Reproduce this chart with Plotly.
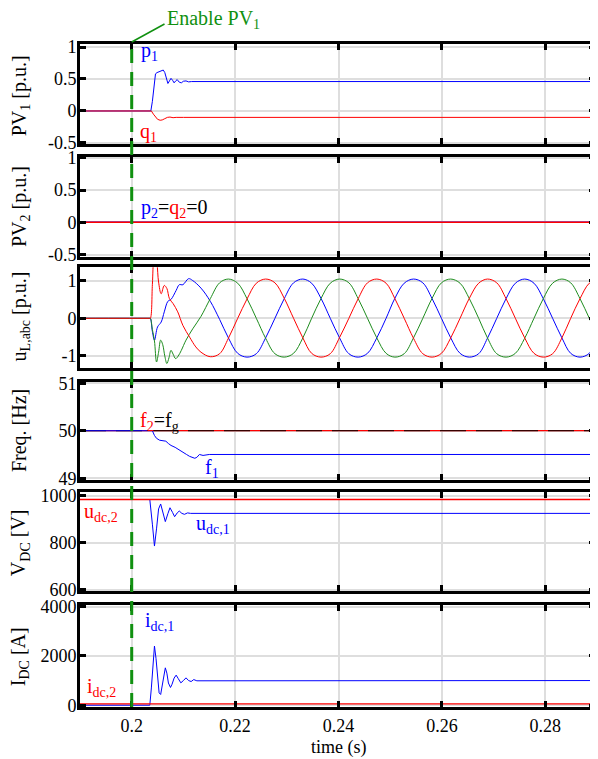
import plotly.graph_objects as go

# ---------------- data ----------------
x_range = [0.19, 0.2896]
t_enable = 0.2
x_ticks = [0.2, 0.22, 0.24, 0.26, 0.28]
x_ticktext = ["0.2", "0.22", "0.24", "0.26", "0.28"]

# Panel 1: PV1 active / reactive power [p.u.]
p1_t = [0.19, 0.2037, 0.2040, 0.2042, 0.2044, 0.2046, 0.2049, 0.2053, 0.2057, 0.2061, 0.2064, 0.2067,
        0.2070, 0.2073, 0.2076, 0.2079, 0.2082, 0.2085, 0.2088, 0.2092, 0.2096, 0.2100, 0.2105, 0.2110,
        0.2116, 0.2896]
p1_v = [0, 0, 0.15, 0.33, 0.48, 0.58, 0.60, 0.61, 0.63, 0.64, 0.60, 0.50,
        0.43, 0.47, 0.51, 0.48, 0.44, 0.47, 0.49, 0.45, 0.44, 0.465, 0.47, 0.455,
        0.46, 0.46]
q1_t = [0.19, 0.2038, 0.2042, 0.2046, 0.2050, 0.2055, 0.2059, 0.2064, 0.2069, 0.2074, 0.2080, 0.2086,
        0.2093, 0.2100, 0.2896]
q1_v = [0, 0, -0.05, -0.10, -0.13, -0.145, -0.14, -0.12, -0.10, -0.095, -0.105, -0.10,
        -0.095, -0.10, -0.10]

# Panel 2: PV2 (stays at zero)
pv2_t = [0.19, 0.2896]
p2_v = [0, 0]
q2_v = [0, 0]

# Panel 3: three-phase load voltage [p.u.]
ua_t_tr = [0.19, 0.2034, 0.2036, 0.2040, 0.2043, 0.2046, 0.2049, 0.2052, 0.2057, 0.2063, 0.2068, 0.2073,
           0.2080, 0.2089, 0.2099, 0.2112, 0.2124]
ua_v_tr = [0, 0, 0, 0.9, 1.6, 1.7, 1.45, 0.96, 0.65, 0.87, 0.79, 0.52,
           0.39, 0.17, -0.19, -0.50, -0.76]
ub_t_tr = [0.19, 0.2034, 0.2036, 0.2040, 0.2044, 0.2050, 0.2057, 0.2063, 0.2070, 0.2076, 0.2086, 0.2092,
           0.2099, 0.2110, 0.2118]
ub_v_tr = [0, 0, 0, -0.35, -0.58, -0.23, -0.10, 0.17, 0.45, 0.50, 0.74, 0.89,
           0.89, 1.05, 1.0]
uc_t_tr = [0.19, 0.2034, 0.2036, 0.2040, 0.2044, 0.2048, 0.2052, 0.2056, 0.2060, 0.2064, 0.2068, 0.2072,
           0.2076, 0.2080, 0.2085, 0.2090, 0.2096, 0.2105, 0.2118]
uc_v_tr = [0, 0, 0, -0.3, -0.6, -1.16, -0.9, -0.58, -0.7, -1.0, -1.2, -1.05,
           -0.85, -0.95, -1.07, -1.0, -0.85, -0.58, -0.28]
u_t_ss = [0.2134, 0.2152, 0.2170, 0.2187, 0.2205, 0.2223, 0.2241, 0.2259, 0.2277, 0.2295, 0.2313, 0.2331,
          0.2348, 0.2366, 0.2384, 0.2402, 0.2420, 0.2438, 0.2456, 0.2474, 0.2492, 0.2509, 0.2527, 0.2545,
          0.2563, 0.2581, 0.2599, 0.2617, 0.2635, 0.2653, 0.2671, 0.2688, 0.2706, 0.2724, 0.2742, 0.2760,
          0.2778, 0.2796, 0.2814, 0.2832, 0.2849, 0.2867, 0.2885, 0.2903]
ua_v_ss = [-0.90, -1.02, -0.94, -0.53, 0.0, 0.51, 0.93, 1.04, 0.94, 0.53, 0.0, -0.52,
           -0.93, -1.03, -0.94, -0.51, 0.0, 0.52, 0.94, 1.04, 0.93, 0.52, 0.0, -0.53,
           -0.94, -1.03, -0.93, -0.52, 0.0, 0.53, 0.93, 1.04, 0.94, 0.52, 0.0, -0.52,
           -0.93, -1.03, -0.94, -0.52, 0.0, 0.52, 0.93, 1.04]
ub_v_ss = [0.80, 0.45, -0.03, -0.52, -0.93, -1.03, -0.94, -0.52, 0.0, 0.52, 0.94, 1.04,
           0.93, 0.53, 0.0, -0.52, -0.94, -1.03, -0.93, -0.52, 0.0, 0.53, 0.93, 1.04,
           0.94, 0.52, 0.0, -0.52, -0.93, -1.03, -0.94, -0.53, 0.0, 0.52, 0.93, 1.04,
           0.93, 0.52, 0.0, -0.52, -0.93, -1.03, -0.93, -0.52]
uc_v_ss = [0.05, 0.52, 0.94, 1.04, 0.93, 0.52, 0.0, -0.53, -0.94, -1.03, -0.93, -0.52,
           0.0, 0.52, 0.93, 1.04, 0.94, 0.52, 0.0, -0.52, -0.93, -1.03, -0.94, -0.52,
           0.0, 0.53, 0.94, 1.04, 0.93, 0.52, 0.0, -0.52, -0.94, -1.03, -0.93, -0.53,
           0.0, 0.52, 0.93, 1.04, 0.94, 0.52, 0.0, -0.52]

# Panel 4: frequency [Hz]
f1_t = [0.19, 0.2040, 0.2044, 0.2048, 0.2054, 0.2060, 0.2066, 0.2071, 0.2076, 0.2084, 0.2092, 0.2100,
        0.2106, 0.2112, 0.2118, 0.2122, 0.2126, 0.2131, 0.2138, 0.2150, 0.2896]
f1_v = [50, 50, 49.9, 49.84, 49.8, 49.79, 49.78, 49.73, 49.69, 49.65, 49.59, 49.54,
        49.5, 49.46, 49.43, 49.42, 49.44, 49.5, 49.48, 49.5, 49.5]
fg_t = [0.19, 0.2896]
f2_v = [50, 50]
fg_v = [50, 50]

# Panel 5: DC voltages [V]
udc1_t = [0.19, 0.2035, 0.2040, 0.2044, 0.2048, 0.2052, 0.2056, 0.2060, 0.2065, 0.2070, 0.2074, 0.2079,
          0.2083, 0.2088, 0.2092, 0.2097, 0.2102, 0.2108, 0.2114, 0.2896]
udc1_v = [985, 985, 880, 787, 860, 945, 966, 935, 891, 925, 950, 930,
          912, 928, 936, 926, 922, 928, 926, 926]
udc2_t = [0.19, 0.2896]
udc2_v = [985, 985]

# Panel 6: DC currents [A]
idc1_t = [0.19, 0.2035, 0.2038, 0.2041, 0.2044, 0.2047, 0.2050, 0.2053, 0.2056, 0.2059, 0.2062, 0.2065,
          0.2068, 0.2071, 0.2075, 0.2078, 0.2082, 0.2086, 0.2090, 0.2095, 0.2100, 0.2105, 0.2110, 0.2115,
          0.2120, 0.2126, 0.2896]
idc1_v = [0, 0, 700, 1700, 2400, 1900, 1000, 500, 435, 800, 1300, 1516,
          1300, 900, 720, 850, 1100, 1220, 1080, 907, 1000, 1110, 1000, 960,
          1040, 990, 1000]
idc2_t = [0.19, 0.2896]
idc2_v = [50, 50]

# axis settings per panel
y_titles = ["PV<sub>1</sub> [p.u.]", "PV<sub>2</sub> [p.u.]", "u<sub>L,abc</sub> [p.u.]",
            "Freq. [Hz]", "V<sub>DC</sub> [V]", "I<sub>DC</sub> [A]"]
y_ranges = [[-0.519, 1.05], [-0.53, 1.02], [-1.332, 1.355], [48.958, 51.036], [593.6, 1014.9], [-73, 4073]]
y_tickvals = [[-0.5, 0, 0.5, 1], [-0.5, 0, 0.5, 1], [-1, 0, 1], [49, 50, 51], [600, 800, 1000], [0, 2000, 4000]]
y_ticktext = [["-0.5", "0", "0.5", "1"], ["-0.5", "0", "0.5", "1"], ["-1", "0", "1"],
              ["49", "50", "51"], ["600", "800", "1000"], ["0", "2000", "4000"]]
y_domains = [[0.8438, 0.9943], [0.6754, 0.8253], [0.5075, 0.6594],
             [0.3400, 0.4880], [0.1732, 0.3216], [0.0, 0.1532]]
y_title_pos = [0.916, 0.750, 0.586, 0.414, 0.246, 0.075]

# ---------------- figure ----------------
BLUE = "#0000ff"
RED = "#ff0000"
GREEN = "#1e8c1e"
FONT = "Liberation Serif, Times New Roman, Times, DejaVu Serif, serif"

fig = go.Figure()


def ax_id(n):
    return "" if n == 1 else str(n)


def add(t, v, color, n, width=1.0, shape="linear", dash=None):
    fig.add_trace(go.Scatter(
        x=t, y=v, mode="lines",
        line=dict(color=color, width=width, shape=shape, dash=dash),
        xaxis="x" + ax_id(n), yaxis="y" + ax_id(n), showlegend=False, hoverinfo="skip"))


# panel 1
add(p1_t, p1_v, BLUE, 1)
add(q1_t, q1_v, RED, 1)
# panel 2
add(pv2_t, p2_v, BLUE, 2, 1.5)
add(pv2_t, q2_v, RED, 2, 1.5)
# panel 3
add(ub_t_tr + u_t_ss, ub_v_tr + ub_v_ss, BLUE, 3, 1.0, "spline")
add(uc_t_tr + u_t_ss, uc_v_tr + uc_v_ss, GREEN, 3, 1.0, "spline")
add(ua_t_tr + u_t_ss, ua_v_tr + ua_v_ss, RED, 3, 1.0, "spline")
# panel 4
add(fg_t, f2_v, RED, 4, 1.3)
add(fg_t, fg_v, "black", 4, 1.0, dash="26px,10px")
add(f1_t, f1_v, BLUE, 4)
# panel 5
add(udc1_t, udc1_v, BLUE, 5)
add(udc2_t, udc2_v, RED, 5, 1.3)
# panel 6
add(idc1_t, idc1_v, BLUE, 6)
add(idc2_t, idc2_v, RED, 6, 1.3)

axis_common = dict(
    showline=True, linewidth=3, linecolor="black", mirror="allticks",
    ticks="inside", ticklen=6, tickwidth=2.5, tickcolor="black",
    showgrid=True, gridcolor="#dedede", gridwidth=1.5, zeroline=False,
    tickfont=dict(family=FONT, size=18, color="black"),
)

# the page puts the figure 8 px in from the top-left corner; margins compensate
layout = dict(
    width=598, height=759,
    margin=dict(l=72, r=8, t=32, b=60),
    paper_bgcolor="white", plot_bgcolor="white",
    font=dict(family=FONT, size=18, color="black"),
    showlegend=False,
)
for i in range(6):
    n = i + 1
    layout["xaxis" + ax_id(n)] = dict(
        axis_common, range=x_range, domain=[0, 1], anchor="y" + ax_id(n),
        tickmode="array", tickvals=x_ticks, ticktext=x_ticktext,
        showticklabels=(n == 6),
        **({} if n == 1 else {"matches": "x"}))
    layout["yaxis" + ax_id(n)] = dict(
        axis_common, range=y_ranges[i], domain=y_domains[i], anchor="x" + ax_id(n),
        tickmode="array", tickvals=y_tickvals[i], ticktext=y_ticktext[i],
        ticklabelstandoff=-3)
fig.update_layout(**layout)

# enable marker: vertical dashed line through all panels
x_en = (t_enable - x_range[0]) / (x_range[1] - x_range[0])
fig.add_shape(type="line", xref="paper", yref="paper", x0=x_en, x1=x_en, y0=0, y1=0.997,
              line=dict(color="#109010", width=3, dash="14px,9px"), layer="above")
fig.add_shape(type="line", xref="paper", yref="paper", x0=x_en, x1=0.1641, y0=0.997, y1=1.024,
              line=dict(color="#109010", width=1.5))

annotations = []
annotations.append(dict(text="Enable PV<sub>1</sub>", xref="paper", yref="paper", x=0.166, y=1.030,
                        xanchor="left", yanchor="middle", showarrow=False,
                        font=dict(family=FONT, size=20, color="#109010")))
for i in range(6):
    annotations.append(dict(text=y_titles[i], xref="paper", yref="paper", x=-0.116, y=y_title_pos[i],
                            xanchor="center", yanchor="middle", textangle=-90, showarrow=False,
                            font=dict(family=FONT, size=20, color="black")))
annotations.append(dict(text="time (s)", xref="paper", yref="paper", x=0.502, y=-0.06,
                        xanchor="center", yanchor="middle", showarrow=False,
                        font=dict(family=FONT, size=18, color="black")))


def lab(text, n, x, y, color):
    annotations.append(dict(text=text, xref="x" + ax_id(n), yref="y" + ax_id(n), x=x, y=y,
                            xanchor="left", yanchor="middle", showarrow=False,
                            font=dict(family=FONT, size=20, color=color)))


lab("p<sub>1</sub>", 1, 0.2015, 0.93, BLUE)
lab("q<sub>1</sub>", 1, 0.2012, -0.33, RED)
lab("<span style='color:#0000ff'>p<sub>2</sub></span>=<span style='color:#ff0000'>q<sub>2</sub></span>=0",
    2, 0.2015, 0.22, "black")
lab("<span style='color:#ff0000'>f<sub>2</sub></span>=f<sub>g</sub>", 4, 0.2012, 50.2, "black")
lab("f<sub>1</sub>", 4, 0.2138, 49.2, BLUE)
lab("u<sub>dc,2</sub>", 5, 0.1904, 930, RED)
lab("u<sub>dc,1</sub>", 5, 0.2121, 880, BLUE)
lab("i<sub>dc,1</sub>", 6, 0.2021, 3380, BLUE)
lab("i<sub>dc,2</sub>", 6, 0.1910, 720, RED)

fig.update_layout(annotations=annotations)
fig.write_html("out.html")
